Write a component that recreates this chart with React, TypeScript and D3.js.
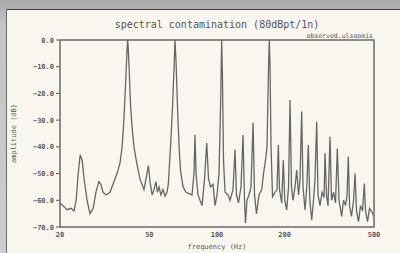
import React from 'react';
import * as d3 from 'd3';

// spectrum: frequency (Hz) and amplitude (dB)
const freqs = [
  20.0, 20.6, 21.5, 22.4, 23.1, 23.6, 24.1, 24.6, 25.1, 25.6, 26.4, 27.2, 28.1, 28.9, 29.8, 30.4, 31.1, 32.1, 33.4, 34.8,
  35.9, 37.0, 37.8, 38.5, 39.1, 39.7, 40.0, 40.2, 40.6, 41.2, 41.9, 42.7, 43.9, 45.4, 47.3, 48.8, 49.5, 50.3, 51.4, 52.4,
  53.5, 54.3, 55.2, 56.3, 57.5, 58.7, 59.9, 60.7, 62.1, 63.4, 64.4, 65.0, 65.7, 66.7, 67.8, 68.8, 70.6, 72.8, 75.1, 77.4,
  79.0, 79.8, 80.7, 82.3, 84.0, 85.8, 88.0, 90.0, 91.7, 93.6, 96.0, 98.0, 100.0, 102.1, 104.0, 104.9, 105.8, 106.9, 108.6, 112.0,
  114.3, 117.8, 120.3, 122.1, 124.6, 127.9, 130.6, 132.6, 133.9, 136.0, 138.8, 141.7, 144.7, 146.9, 149.9, 153.8, 158.2, 161.1, 164.4, 167.0,
  169.6, 171.0, 172.2, 174.0, 176.7, 181.3, 185.0, 187.5, 189.8, 194.1, 197.3, 200.4, 204.3, 208.2, 211.4, 214.6, 218.0, 222.5, 226.4, 230.7,
  234.2, 238.3, 241.5, 246.5, 251.0, 255.0, 258.9, 264.1, 268.9, 273.1, 277.9, 281.7, 287.5, 293.5, 299.6, 302.6, 307.3, 312.1, 318.5, 323.5,
  330.2, 337.0, 343.3, 349.3, 359.1, 365.8, 373.4, 379.2, 384.3, 389.1, 397.1, 405.5, 411.7, 418.0, 426.6, 435.4, 444.5, 452.9, 458.4, 467.8,
  477.6, 488.4, 496.6, 500.0,
];
const amps = [
  -61, -62, -63.5, -63, -64, -60, -50, -43, -45, -52, -60, -65, -63, -57, -53, -54, -57, -58, -57, -53,
  -50, -46, -40, -30, -18, -5, 0, -2, -10, -24, -33, -40, -46, -52, -56, -50, -47, -53, -58, -56,
  -53, -57, -55, -58, -56, -58.5, -57, -54, -40, -25, -10, 0, -8, -25, -40, -49, -55, -57, -57.5, -58,
  -50, -35.5, -50, -58, -60, -62, -52, -38.6, -52, -55, -54, -62, -58, -50, -20, 0, -15, -45, -57, -58,
  -60, -56, -41, -58, -61, -55, -35.6, -60, -68.5, -60, -58, -55, -31, -58, -65, -58, -56, -50, -45, -40,
  -10, 0, -10, -40, -58.7, -57, -56, -39.3, -56, -61, -45, -60, -63.6, -55, -22.5, -55, -60, -55, -48.7, -58,
  -52, -26.8, -55, -63.6, -55, -39.3, -60, -67.4, -60, -52, -30.6, -58, -62, -57, -59, -42.4, -58, -62, -36.2, -60,
  -57, -61, -40.6, -60, -66, -60, -62, -58, -43.7, -62, -66, -60, -50, -64, -68, -62, -64, -53.7, -64, -68,
  -63, -64.3, -65.5, -66,
];

const xTicks = [20, 50, 100, 200, 500];
const yTicks = [0, -10, -20, -30, -40, -50, -60, -70];

const title = 'spectral contamination (80dBpt/1n)';
const subtitle = 'observed.ulsoomis';
const xLabel = 'frequency (Hz)';
const yLabel = 'amplitude (dB)';

const W = 400;
const H = 253;
const plot = {left: 60, right: 374, top: 40, bottom: 227};
const mono = '"DejaVu Sans Mono", "Liberation Mono", monospace';
const ink = '#5a5a5a';

const App = () => {
  const x = d3.scaleLog().domain([20, 500]).range([plot.left, plot.right]);
  const y = d3.scaleLinear().domain([-70, 0]).range([plot.bottom, plot.top]);

  const points: [number, number][] = freqs.map((f, i) => [f, amps[i]]);
  const line = d3.line<[number, number]>()
    .x((d) => x(d[0]))
    .y((d) => y(d[1]));

  const fmtY = d3.format('.1f');

  return (
    <svg width={W} height={H} style={{position: 'absolute', left: 0, top: 0}}>
      <defs>
        <linearGradient id="bg" x1="0" y1="0" x2="0" y2="1">
          <stop offset="0" stopColor="#a9a9a9"/>
          <stop offset="0.1" stopColor="#c4c4c4"/>
          <stop offset="1" stopColor="#cdcdcd"/>
        </linearGradient>
      </defs>
      <rect x={0} y={0} width={W} height={H} fill="url(#bg)"/>
      <rect x={6} y={9} width={W - 6} height={H - 9} fill="#f8f6ef"/>
      <line x1={6} y1={9.5} x2={W} y2={9.5} stroke="#3a3a3a" strokeWidth={1}/>
      <line x1={6.5} y1={9} x2={6.5} y2={H} stroke="#6a6a6a" strokeWidth={1}/>

      <text x={217} y={28} textAnchor="middle" fontFamily={mono} fontSize={10} fill="#555">{title}</text>
      <text x={373} y={38} textAnchor="end" fontFamily={mono} fontSize={6.5} fill="#555">{subtitle}</text>

      {/* y axis ticks and labels */}
      {yTicks.map((t) => (
        <g key={t}>
          <line x1={plot.left - 4} x2={plot.left} y1={y(t)} y2={y(t)} stroke={ink} strokeWidth={1}/>
          <text x={plot.left - 6} y={y(t) + 2.5} textAnchor="end" fontFamily={mono} fontSize={7}
                fontWeight="bold" fill={ink}>{fmtY(t)}</text>
        </g>
      ))}

      {/* x axis labels */}
      {xTicks.map((t) => (
        <text key={t} x={x(t)} y={237} textAnchor="middle" fontFamily={mono} fontSize={7}
              fontWeight="bold" fill={ink}>{t}</text>
      ))}

      <text x={217} y={249} textAnchor="middle" fontFamily={mono} fontSize={7} fill={ink}>{xLabel}</text>
      <text transform={`translate(16,${(plot.top + plot.bottom) / 2}) rotate(-90)`} textAnchor="middle"
            fontFamily={mono} fontSize={7} fill={ink}>{yLabel}</text>

      <path d={line(points) || ''} fill="none" stroke="#666" strokeWidth={1.3} strokeLinejoin="miter"/>

      <rect x={plot.left} y={plot.top} width={plot.right - plot.left} height={plot.bottom - plot.top}
            fill="none" stroke="#6a6a6a" strokeWidth={1.5}/>
    </svg>
  );
};

export default App;
